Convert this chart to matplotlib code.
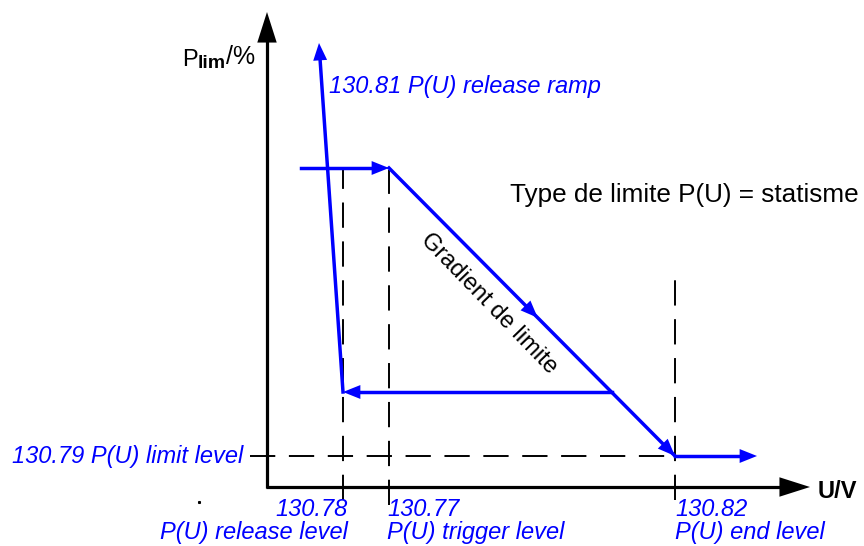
import matplotlib.pyplot as plt

plt.rcParams['font.family'] = ['Liberation Sans', 'DejaVu Sans']

# levels on the U axis (drawing units)
u_origin = 267
u_start = 301
u_ramp_top = 319
u_release = 343
u_trigger = 389
u_return = 612
u_end = 675
u_out = 757
u_axis_end = 810

# levels on the P axis (drawing units)
p_origin = 59
p_limit = 90
p_release = 154
p_max = 378
p_ramp_top = 503
p_axis_end = 534

blue = '#0000ff'

fig = plt.figure(figsize=(8.64, 5.46), dpi=100)
ax = fig.add_axes([0, 0, 1, 1])
ax.set_xlim(0, 864)
ax.set_ylim(0, 546)
ax.axis('off')


def arrow_head(tip, tail, color, hl, hw, lw=0):
    ax.annotate('', xy=tip, xytext=tail,
                arrowprops=dict(arrowstyle='-|>,head_length=%s,head_width=%s' % (hl, hw),
                                color=color, lw=lw, shrinkA=0, shrinkB=0))


# axes
ax.plot([u_origin, u_origin], [p_origin - 1, p_axis_end - 25], color='black', lw=2.3,
        solid_capstyle='butt')
ax.plot([u_origin - 1, u_axis_end - 25], [p_origin, p_origin], color='black', lw=2.3,
        solid_capstyle='butt')
arrow_head((u_origin, p_axis_end), (u_origin, p_axis_end - 32), 'black', 2.2, 0.7)
arrow_head((u_axis_end, p_origin), (u_axis_end - 32, p_origin), 'black', 2.2, 0.7)

# dashed guides
dash = dict(color='black', lw=1.4, dashes=(13, 7))
ax.plot([u_release, u_release], [p_origin - 13, p_max], **dash)
ax.plot([u_trigger, u_trigger], [p_origin - 18, p_max - 2], **dash)
ax.plot([u_end, u_end], [p_origin - 13, 266], **dash)
ax.plot([250, u_end], [p_limit, p_limit], **dash)

# characteristic curve
lw_b = 2.5
ax.plot([u_start, u_trigger - 10], [p_max, p_max], color=blue, lw=lw_b)
ax.plot([u_trigger, u_end], [p_max, p_limit], color=blue, lw=lw_b)
ax.plot([u_end, u_out - 14], [p_limit, p_limit], color=blue, lw=lw_b)
ax.plot([u_return, u_release + 14], [p_release, p_release], color=blue, lw=lw_b)
ax.plot([u_release, u_ramp_top + 0.9], [p_release, p_ramp_top - 14], color=blue, lw=lw_b)

hl, hw = 1.25, 0.5
arrow_head((u_trigger, p_max), (u_trigger - 18, p_max), blue, hl, hw)
mid_u = u_trigger + (u_end - u_trigger) * 0.52
mid_p = p_max + (p_limit - p_max) * 0.52
du = (u_end - u_trigger) / 20
dp = (p_limit - p_max) / 20
arrow_head((mid_u, mid_p), (mid_u - du, mid_p - dp), blue, hl, hw)
arrow_head((u_end, p_limit), (u_end - du, p_limit - dp), blue, hl, hw)
arrow_head((u_out, p_limit), (u_out - 18, p_limit), blue, hl, hw)
arrow_head((u_release, p_release), (u_release + 18, p_release), blue, hl, hw)
arrow_head((u_ramp_top, p_ramp_top), (u_ramp_top + 1.2, p_ramp_top - 18), blue, hl, hw)

# texts
fs = 17
# P_lim/% axis label built from three pieces
ax.text(182, 480, 'P', fontsize=fs, ha='left', va='baseline')
ax.text(198, 478, 'lim', fontsize=14, fontweight='bold', ha='left', va='baseline')
ax.text(226, 482, '/%', fontsize=18, ha='left', va='baseline')
ax.text(818, 54, 'U/V', fontsize=fs, fontweight='bold', ha='left', va='center')
ax.text(329, 459, '130.81 P(U) release ramp', fontsize=fs, style='italic',
        color=blue, ha='left', va='center')
ax.text(510, 351, 'Type de limite P(U) = statisme', fontsize=18.8, ha='left', va='center')
ax.text(489, 242, 'Gradient de limite', fontsize=fs, rotation=-46,
        rotation_mode='anchor', ha='center', va='center')
ax.text(243, p_limit, '130.79 P(U) limit level', fontsize=fs, style='italic',
        color=blue, ha='right', va='center')
ax.text(u_release + 5, 37, '130.78', fontsize=fs, style='italic', color=blue,
        ha='right', va='center')
ax.text(u_release + 5, 14, 'P(U) release level', fontsize=fs, style='italic',
        color=blue, ha='right', va='center')
ax.text(u_trigger - 2, 37, '130.77', fontsize=fs, style='italic', color=blue,
        ha='left', va='center')
ax.text(u_trigger - 2, 14, 'P(U) trigger level', fontsize=fs, style='italic',
        color=blue, ha='left', va='center')
ax.text(u_end, 37, '130.82', fontsize=fs, style='italic', color=blue,
        ha='left', va='center')
ax.text(u_end, 14, 'P(U) end level', fontsize=fs, style='italic', color=blue,
        ha='left', va='center')
ax.plot([199], [44], marker='s', ms=1.2, color='black')

fig.savefig('out.png', dpi=100)
